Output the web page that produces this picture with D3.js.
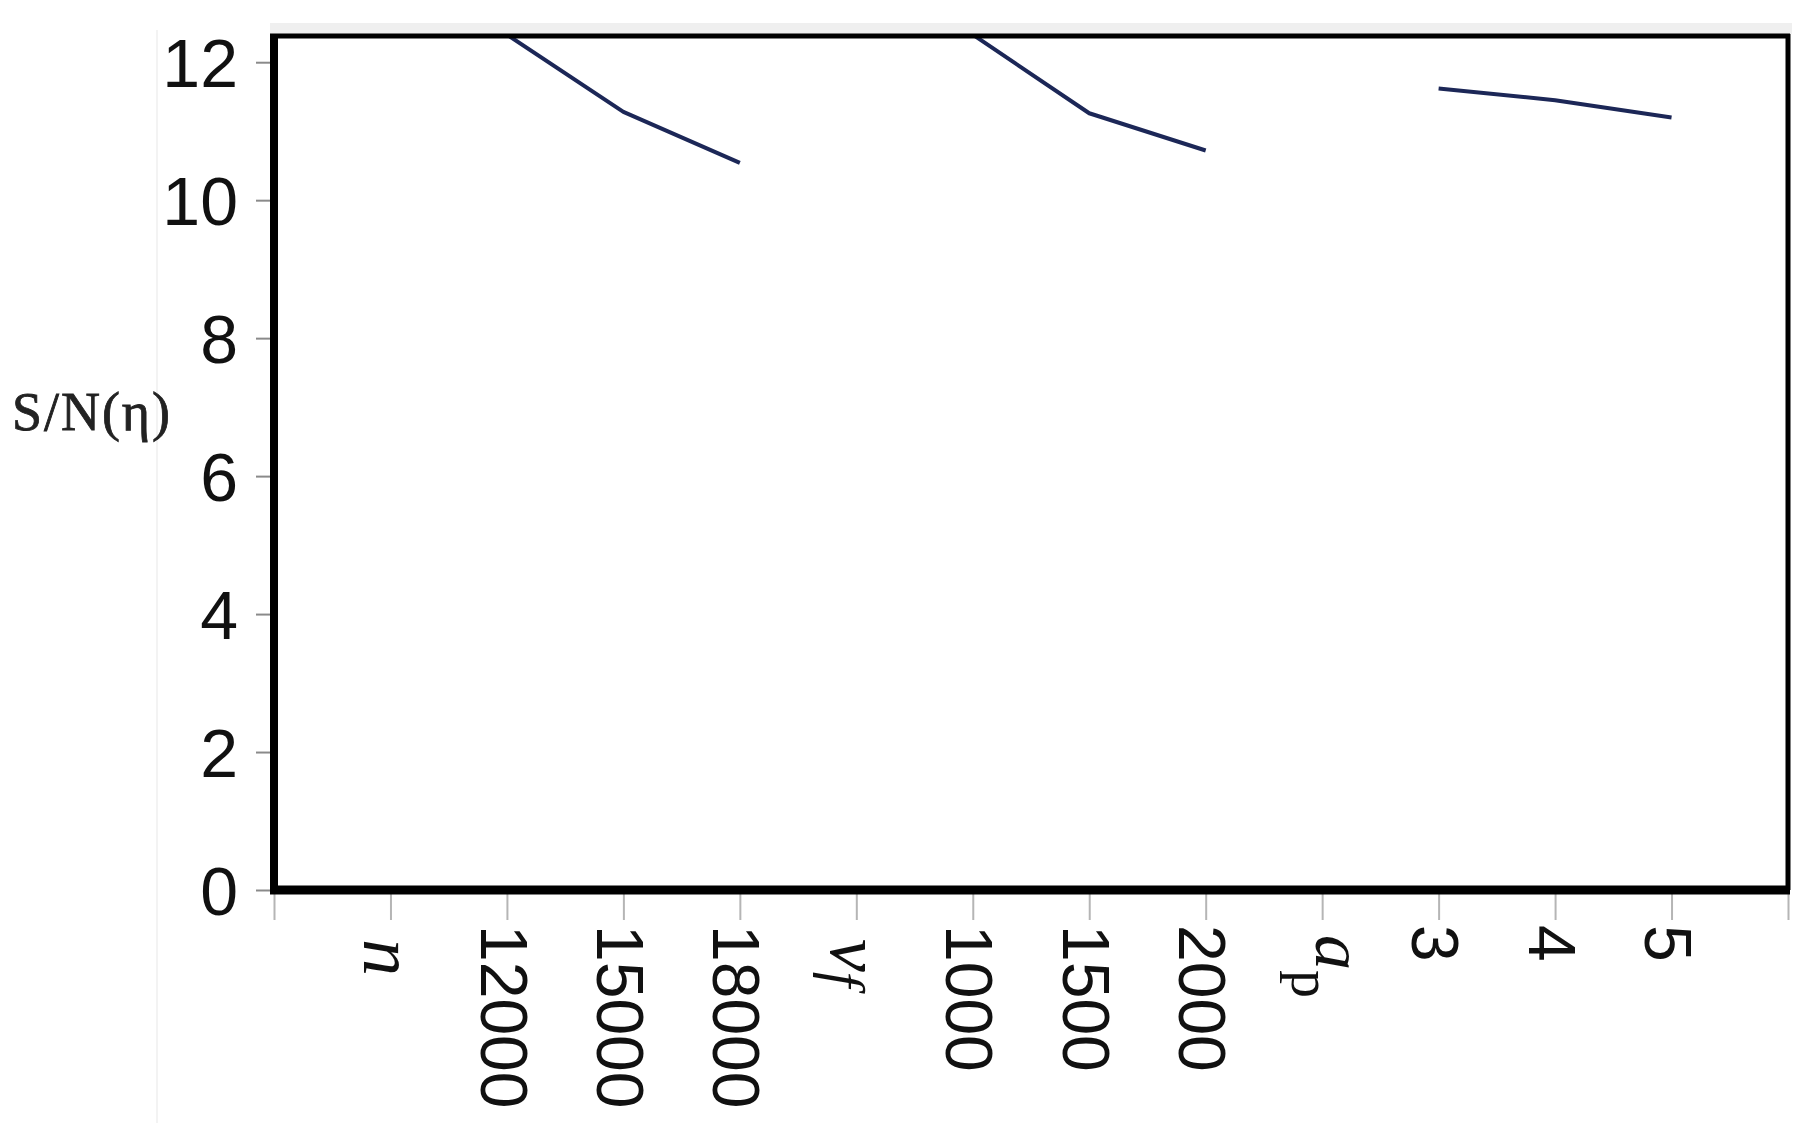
<!DOCTYPE html>
<html>
<head>
<meta charset="utf-8">
<script src="https://cdn.jsdelivr.net/npm/d3@7"></script>
<style>
  body { margin: 0; background: #fff; }
</style>
</head>
<body>
<div id="chart"></div>
<script>
// tick labels along the x axis (groups of parameters with their levels)
var tickLabels = ["n", "12000", "15000", "18000", "vf", "1000", "1500", "2000", "ap", "3", "4", "5"];
var yTicks = [0, 2, 4, 6, 8, 10, 12];

// S/N ratio for each level of each parameter
var nLevels = ["12000", "15000", "18000"];
var snN = [12.4, 11.28, 10.54];
var vfLevels = ["1000", "1500", "2000"];
var snVf = [12.4, 11.26, 10.72];
var apLevels = ["3", "4", "5"];
var snAp = [11.62, 11.45, 11.2];

var w = 1813, h = 1123;
var margin = {top: 36, right: 25, bottom: 233, left: 274};

var svg = d3.select("#chart")
  .append("svg")
    .attr("width", w)
    .attr("height", h);

// faint scan artefacts of the original figure
svg.append("rect")
  .attr("x", 270).attr("y", 23)
  .attr("width", 1522).attr("height", 11)
  .attr("fill", "#efefef");
svg.append("line")
  .attr("x1", 157).attr("x2", 157)
  .attr("y1", 30).attr("y2", h)
  .attr("stroke", "#f3f3f3")
  .attr("stroke-width", 2);

// X scale: one slot per tick label, empty slot at both ends
var x = d3.scaleLinear()
  .domain([0, tickLabels.length + 1])
  .range([margin.left, w - margin.right]);
function pos(label, start) { return x(tickLabels.indexOf(label, start) + 1); }

// Y scale
var y = d3.scaleLinear()
  .domain([0, 12.38])
  .range([h - margin.bottom, margin.top]);

// x ticks
var xAxis = svg.append("g")
  .attr("transform", "translate(0," + y(0) + ")")
  .call(d3.axisBottom(x).tickValues(d3.range(0, tickLabels.length + 2)).tickSize(30).tickFormat(""));
xAxis.select(".domain").remove();
xAxis.selectAll("line").attr("stroke", "#b5b5b5").attr("stroke-width", 2);

// y ticks
var yAxis = svg.append("g")
  .attr("transform", "translate(" + (x(0) - 4) + ",0)")
  .call(d3.axisLeft(y).tickValues(yTicks).tickSize(14).tickPadding(18));
yAxis.select(".domain").remove();
yAxis.selectAll("line").attr("stroke", "#8a8a8a").attr("stroke-width", 2);
yAxis.selectAll("text")
  .attr("font-family", "'Liberation Sans', Arial, sans-serif")
  .attr("font-size", "68px")
  .attr("fill", "#111")
  .attr("dy", "0.36em");

// y axis title
svg.append("text")
  .attr("x", 12)
  .attr("y", 430)
  .attr("font-family", "'Liberation Serif', 'Times New Roman', serif")
  .attr("font-size", "54px")
  .attr("fill", "#222")
  .attr("stroke", "#222")
  .attr("stroke-width", 0.8)
  .attr("textLength", 158)
  .text("S/N(η)");

// x tick labels, rotated
var numFont = "'Liberation Sans', Arial, sans-serif";
var symFont = "'Liberation Serif', 'Times New Roman', serif";
tickLabels.forEach(function(lab, i) {
  var cx = x(i + 1);
  var g = svg.append("g").attr("transform", "translate(" + cx + ",925) rotate(90)");
  if (lab === "n") {
    g.append("text")
      .attr("x", 14).attr("y", 26)
      .attr("font-family", symFont).attr("font-style", "italic")
      .attr("font-size", "74px").attr("fill", "#111")
      .text("n");
  } else if (lab === "vf") {
    var t = g.append("text")
      .attr("x", 14).attr("y", 25)
      .attr("font-family", symFont).attr("font-style", "italic")
      .attr("font-size", "74px").attr("fill", "#111");
    t.append("tspan").text("v");
    t.append("tspan").attr("dy", 6).attr("font-size", "56px").text("f");
  } else if (lab === "ap") {
    var t2 = g.append("text")
      .attr("x", 10).attr("y", 6)
      .attr("font-family", symFont)
      .attr("font-size", "70px").attr("fill", "#111");
    t2.append("tspan").attr("font-style", "italic").text("a");
    t2.append("tspan").attr("dy", 24).attr("font-size", "56px").text("p");
  } else {
    g.append("text")
      .attr("x", 0).attr("y", 0)
      .attr("dy", "0.4em")
      .attr("font-family", numFont)
      .attr("font-size", "66px")
      .attr("fill", "#111")
      .text(lab);
  }
});

// clip for the curves
svg.append("clipPath").attr("id", "plotclip")
  .append("rect")
    .attr("x", x(0)).attr("y", y.range()[1])
    .attr("width", x.range()[1] - x(0))
    .attr("height", y(0) - y.range()[1]);

var line = d3.line()
  .x(function(d) { return d[0]; })
  .y(function(d) { return y(d[1]); });

var series = [
  {levels: nLevels, vals: snN, start: 0},
  {levels: vfLevels, vals: snVf, start: 4},
  {levels: apLevels, vals: snAp, start: 8}
];
series.forEach(function(s) {
  var pts = s.levels.map(function(l, i) { return [pos(l, s.start), s.vals[i]]; });
  svg.append("path")
    .datum(pts)
    .attr("clip-path", "url(#plotclip)")
    .attr("fill", "none")
    .attr("stroke", "#1c2757")
    .attr("stroke-width", 4)
    .attr("stroke-linejoin", "round")
    .attr("d", line);
});

// plot frame
var L = x(0), R = x.range()[1], T = y.range()[1], B = y(0);
svg.append("line").attr("x1", L - 4).attr("x2", R + 2).attr("y1", T).attr("y2", T)
  .attr("stroke", "#000").attr("stroke-width", 5);
svg.append("line").attr("x1", R).attr("x2", R).attr("y1", T - 2).attr("y2", B)
  .attr("stroke", "#000").attr("stroke-width", 5);
svg.append("line").attr("x1", L).attr("x2", L).attr("y1", T - 2).attr("y2", B + 4)
  .attr("stroke", "#000").attr("stroke-width", 8);
svg.append("line").attr("x1", L - 4).attr("x2", R + 2).attr("y1", B).attr("y2", B)
  .attr("stroke", "#000").attr("stroke-width", 9);
</script>
</body>
</html>
